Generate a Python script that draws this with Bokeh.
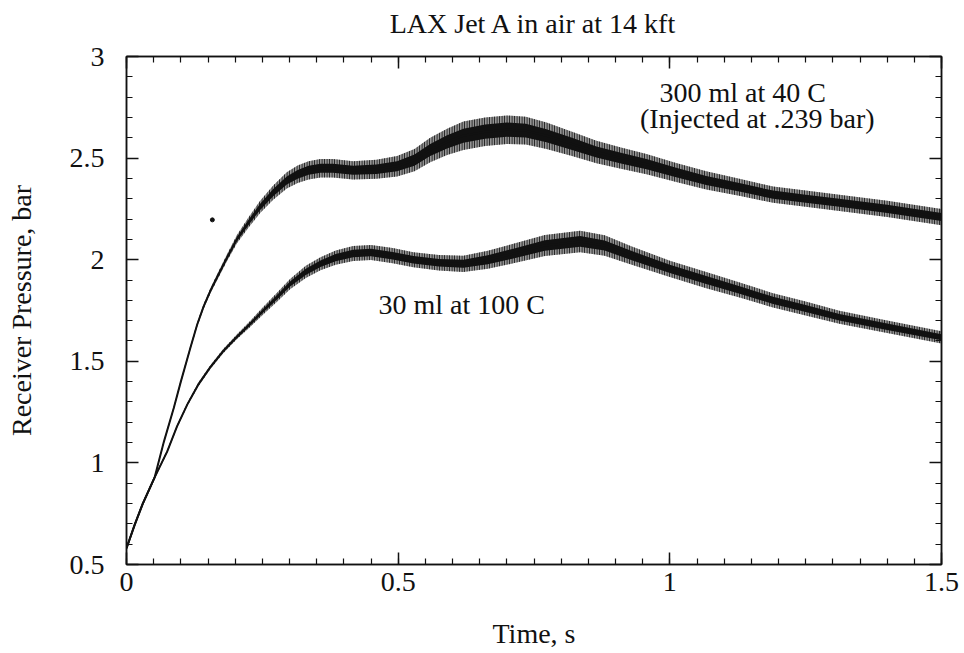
import numpy as np
from bokeh.plotting import figure
from bokeh.models import (LinearAxis, FixedTicker, CustomJSTickFormatter, Range1d,
                          Label, ColumnDataSource, Title)
from bokeh.embed import file_html
from bokeh.resources import INLINE

# ---------------- data ----------------
title_text = "LAX Jet A in air at 14 kft"
x_label = "Time, s"
y_label = "Receiver Pressure, bar"

# 300 ml at 40 C  (upper curve): time, band centre, band half-width
t_300 = [0.0, 0.015, 0.03, 0.052, 0.069, 0.087, 0.10, 0.118, 0.13, 0.142,
         0.155, 0.167, 0.185, 0.203, 0.225, 0.246, 0.27, 0.295, 0.315, 0.335,
         0.357, 0.38, 0.417, 0.46, 0.498, 0.53, 0.559, 0.59, 0.62, 0.66,
         0.70, 0.735, 0.773, 0.82, 0.865, 0.91, 0.957, 1.01, 1.067, 1.13,
         1.19, 1.25, 1.312, 1.40, 1.5]
p_300 = [0.58, 0.695, 0.80, 0.93, 1.106, 1.27, 1.40, 1.57, 1.68, 1.77,
         1.85, 1.915, 2.01, 2.10, 2.185, 2.26, 2.33, 2.39, 2.42, 2.44,
         2.45, 2.45, 2.44, 2.445, 2.46, 2.49, 2.54, 2.58, 2.61, 2.63,
         2.64, 2.635, 2.61, 2.57, 2.53, 2.50, 2.47, 2.43, 2.39, 2.355,
         2.32, 2.30, 2.28, 2.25, 2.21]
hw_300 = [0.01, 0.008, 0.008, 0.008, 0.008, 0.009, 0.009, 0.01, 0.011, 0.012,
          0.013, 0.015, 0.017, 0.02, 0.025, 0.03, 0.035, 0.04, 0.043, 0.045,
          0.045, 0.045, 0.045, 0.047, 0.05, 0.055, 0.06, 0.065, 0.07, 0.07,
          0.07, 0.068, 0.065, 0.06, 0.055, 0.052, 0.05, 0.047, 0.045, 0.042,
          0.04, 0.04, 0.04, 0.04, 0.04]

# 30 ml at 100 C (lower curve)
t_30 = [0.0, 0.015, 0.03, 0.052, 0.075, 0.093, 0.112, 0.132, 0.154, 0.178,
        0.203, 0.228, 0.252, 0.277, 0.301, 0.33, 0.357, 0.385, 0.417, 0.45,
        0.49, 0.528, 0.575, 0.62, 0.665, 0.712, 0.77, 0.835, 0.88, 0.93,
        1.0, 1.067, 1.13, 1.19, 1.25, 1.312, 1.40, 1.5]
p_30 = [0.58, 0.695, 0.80, 0.93, 1.057, 1.18, 1.288, 1.385, 1.47, 1.55,
        1.62, 1.685, 1.75, 1.815, 1.88, 1.94, 1.98, 2.01, 2.03, 2.035,
        2.02, 2.0, 1.985, 1.98, 2.0, 2.03, 2.07, 2.09, 2.07, 2.02,
        1.955, 1.90, 1.85, 1.80, 1.76, 1.717, 1.67, 1.618]
hw_30 = [0.01, 0.008, 0.008, 0.008, 0.008, 0.008, 0.008, 0.009, 0.009, 0.01,
         0.012, 0.015, 0.018, 0.022, 0.025, 0.03, 0.032, 0.035, 0.037, 0.037,
         0.037, 0.037, 0.038, 0.04, 0.044, 0.048, 0.052, 0.053, 0.05, 0.045,
         0.04, 0.04, 0.037, 0.035, 0.034, 0.032, 0.031, 0.03]

stray_t = [0.158]
stray_p = [2.196]

x_ticks = [0, 0.5, 1, 1.5]
y_ticks = [0.5, 1, 1.5, 2, 2.5, 3]
x_minor = [round(0.05 * i, 2) for i in range(31)]
y_minor = [round(0.5 + 0.1 * i, 2) for i in range(26)]

notes = [("300 ml at 40 C", 1.134, 2.824),
         ("(Injected at .239 bar)", 1.161, 2.696),
         ("30 ml at 100 C", 0.617, 1.78)]

FONT = "Liberation Serif"
INK = "#111111"

# ---------------- figure ----------------
p = figure(width=964, height=653, output_backend="svg", toolbar_location=None,
           x_range=Range1d(0, 1.5), y_range=Range1d(0.5, 3),
           x_axis_location=None, y_axis_location=None,
           min_border_left=126, min_border_right=23, min_border_top=56,
           min_border_bottom=89)
p.background_fill_color = "white"
p.border_fill_color = "white"
p.grid.visible = False
p.outline_line_color = INK
p.outline_line_width = 1.5

p.title.text = title_text
p.title.align = "center"
p.title.text_font = FONT
p.title.text_font_size = "28px"
p.title.text_font_style = "normal"
p.title.text_color = INK

fmt = CustomJSTickFormatter(code="return String(Math.round(tick*100)/100);")
blank = CustomJSTickFormatter(code="return '';")


def make_axis(ticks, minor, formatter, label=None, labels=True):
    ax = LinearAxis(ticker=FixedTicker(ticks=ticks, minor_ticks=minor),
                    formatter=formatter)
    ax.major_tick_in = 12
    ax.major_tick_out = 0
    ax.minor_tick_in = 6
    ax.minor_tick_out = 0
    ax.axis_line_color = INK
    ax.axis_line_width = 1.5
    ax.major_tick_line_color = INK
    ax.major_tick_line_width = 1.5
    ax.minor_tick_line_color = INK
    ax.minor_tick_line_width = 1.2
    ax.major_label_text_font = FONT
    ax.major_label_text_font_size = "28px"
    ax.major_label_text_color = INK
    if label:
        ax.axis_label = label
        ax.axis_label_text_font = FONT
        ax.axis_label_text_font_size = "28px"
        ax.axis_label_text_font_style = "normal"
        ax.axis_label_text_color = INK
    if not labels:
        ax.major_label_text_font_size = "0px"
        ax.major_label_standoff = 0
    return ax


xb = make_axis(x_ticks, x_minor, fmt, x_label)
xb.major_label_standoff = 8
xb.axis_label_standoff = 24
yl = make_axis(y_ticks, y_minor, fmt, y_label)
yl.major_label_standoff = 22
yl.axis_label_standoff = 30
xt = make_axis(x_ticks, x_minor, blank, labels=False)
yr = make_axis(y_ticks, y_minor, blank, labels=False)
p.add_layout(xb, "below")
p.add_layout(yl, "left")
p.add_layout(xt, "above")
p.add_layout(yr, "right")
# empty spacer between frame and title to lift the title
p.add_layout(Title(text=" ", text_font_size="10px", standoff=0), "above")

# ---------------- curves ----------------
for t, c, h in ((t_300, p_300, hw_300), (t_30, p_30, hw_30)):
    t = np.array(t, float)
    c = np.array(c, float)
    h = np.array(h, float)
    src = ColumnDataSource(dict(t=t, lo=c - h, hi=c + h,
                                clo=c - 0.5 * h, chi=c + 0.5 * h, c=c))
    # outer envelope with vertical noise strokes
    p.varea(x="t", y1="lo", y2="hi", source=src, fill_color=INK, fill_alpha=0.45,
            hatch_pattern="vertical_line", hatch_color=INK, hatch_scale=2.5,
            hatch_weight=1.2, hatch_alpha=0.9)
    # dense core
    p.varea(x="t", y1="clo", y2="chi", source=src, fill_color=INK, fill_alpha=1.0)
    p.line(x="t", y="c", source=src, line_color=INK, line_width=2,
           line_join="round")

p.scatter(stray_t, stray_p, size=4, color=INK)

for txt, x, y in notes:
    p.add_layout(Label(x=x, y=y, text=txt, text_font=FONT, text_font_size="28px",
                       text_align="center", text_baseline="middle", text_color=INK))

open("out.html", "w").write(file_html(p, INLINE))
